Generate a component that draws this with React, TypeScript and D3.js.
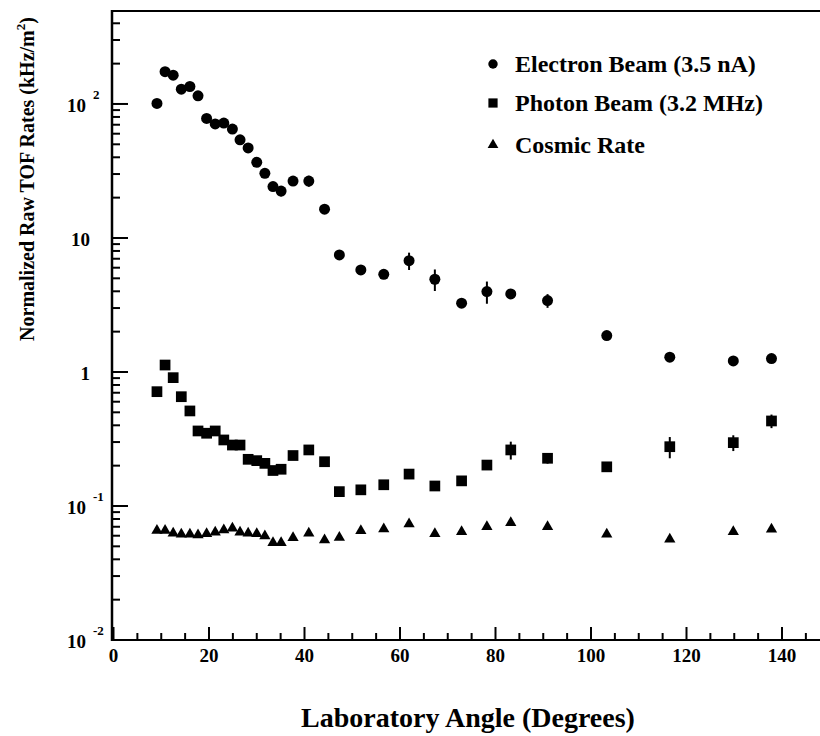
import React from "react";
import * as d3 from "d3";

// ---- data ----
const angles = [9.1, 10.8, 12.5, 14.2, 16.0, 17.7, 19.5, 21.3, 23.1, 24.9, 26.5, 28.2, 30.0, 31.7, 33.4, 35.1, 37.6, 40.9, 44.2, 47.3, 51.8, 56.6, 61.9, 67.3, 72.9, 78.2, 83.2, 90.9, 103.3, 116.5, 129.8, 137.8];
const electronRate = [101, 174, 164, 129, 135, 115, 78, 71, 72, 65, 54, 47, 36.7, 30.4, 24.2, 22.4, 26.6, 26.6, 16.4, 7.47, 5.77, 5.36, 6.77, 4.92, 3.26, 3.98, 3.82, 3.41, 1.87, 1.29, 1.21, 1.26];
const electronErr = [0, 0, 0, 0, 0, 0, 0, 0, 0, 0, 0, 0, 0, 0, 0, 2.0, 0, 2.5, 0, 0, 0, 0, 1.0, 0.9, 0, 0.75, 0.3, 0.4, 0, 0, 0, 0];
const photonRate = [0.713, 1.127, 0.907, 0.654, 0.512, 0.363, 0.349, 0.363, 0.311, 0.285, 0.285, 0.223, 0.218, 0.208, 0.184, 0.188, 0.238, 0.262, 0.214, 0.128, 0.132, 0.144, 0.173, 0.141, 0.154, 0.202, 0.262, 0.227, 0.196, 0.277, 0.297, 0.431];
const photonErr = [0, 0, 0, 0, 0, 0, 0, 0, 0, 0, 0, 0, 0, 0, 0, 0, 0, 0, 0, 0, 0, 0, 0, 0, 0, 0.012, 0.04, 0.02, 0.012, 0.05, 0.04, 0.05];
const cosmicRate = [0.0655, 0.0655, 0.0625, 0.0615, 0.0615, 0.0608, 0.062, 0.0637, 0.0662, 0.0682, 0.0637, 0.0625, 0.062, 0.0597, 0.0532, 0.0532, 0.058, 0.0625, 0.0557, 0.0582, 0.0653, 0.0673, 0.0734, 0.062, 0.0643, 0.0701, 0.0751, 0.0701, 0.0615, 0.0564, 0.0643, 0.067];

const xMajorTicks = [0, 20, 40, 60, 80, 100, 120, 140];
const yDecades = [-2, -1, 0, 1, 2];
const yTickLabels = [
  { exp: -2, base: "10", sup: "-2" },
  { exp: -1, base: "10", sup: "-1" },
  { exp: 0, base: "1", sup: "" },
  { exp: 1, base: "10", sup: "" },
  { exp: 2, base: "10", sup: "2" },
];
const legendItems = [
  { label: "Electron Beam (3.5 nA)", shape: "circle" },
  { label: "Photon Beam (3.2 MHz)", shape: "square" },
  { label: "Cosmic Rate", shape: "triangle" },
];
const xTitle = "Laboratory Angle (Degrees)";
const yTitle = "Normalized Raw TOF Rates (kHz/m";

const W = 820;
const H = 736;
const FONT = "'Liberation Serif', 'Times New Roman', serif";

export default function App() {
  const x = d3.scaleLinear().domain([0, 150]).range([113.5, 113.5 + 150 * 4.775]);
  const y = d3.scaleLog().domain([0.01, 494]).range([640, 11]);
  const x0 = 112;
  const yBot = 640;
  const yTop = 11;

  const circle = d3.symbol().type(d3.symbolCircle).size(95)();
  const square = d3.symbol().type(d3.symbolSquare).size(115)();
  const tri = d3.symbol().type(d3.symbolTriangle).size(55)();
  const circleL = d3.symbol().type(d3.symbolCircle).size(70)();
  const squareL = d3.symbol().type(d3.symbolSquare).size(85)();
  const triL = d3.symbol().type(d3.symbolTriangle).size(50)();
  const shapeOf: Record<string, string> = { circle: circleL, square: squareL, triangle: triL };

  const xMinor = d3.range(0, 149, 5).filter((v) => v % 20 !== 0);
  const yMinor: number[] = [];
  yDecades.forEach((e) => {
    for (let m = 2; m <= 9; m++) {
      const v = m * Math.pow(10, e);
      if (v <= 494) yMinor.push(v);
    }
  });

  const series = [
    { vals: electronRate, errs: electronErr, path: circle },
    { vals: photonRate, errs: photonErr, path: square },
    { vals: cosmicRate, errs: null as number[] | null, path: tri },
  ];

  return (
    <svg width={W} height={H} style={{ position: "absolute", left: 0, top: 0, background: "#fff" }} fontFamily={FONT}>
      <rect x={0} y={0} width={W} height={H} fill="#fff" />
      {/* frame */}
      <line x1={x0} x2={W} y1={yTop} y2={yTop} stroke="#000" strokeWidth={2} />
      <line x1={x0} x2={W} y1={yBot} y2={yBot} stroke="#000" strokeWidth={2} />
      <line x1={x0} x2={x0} y1={yTop - 1} y2={yBot + 1} stroke="#000" strokeWidth={2.5} />

      {/* x ticks */}
      {xMajorTicks.map((t) => (
        <g key={"xm" + t}>
          <line x1={x(t)} x2={x(t)} y1={yBot} y2={yBot - 13} stroke="#000" strokeWidth={2} />
          <text x={x(t)} y={662} textAnchor="middle" fontSize={19} fontWeight="bold">{t}</text>
        </g>
      ))}
      {xMinor.map((t) => (
        <line key={"xn" + t} x1={x(t)} x2={x(t)} y1={yBot} y2={yBot - 7} stroke="#000" strokeWidth={2} />
      ))}

      {/* y ticks */}
      {yDecades.map((e) => (
        <line key={"ym" + e} x1={x0} x2={x0 + 16} y1={y(Math.pow(10, e))} y2={y(Math.pow(10, e))} stroke="#000" strokeWidth={2} />
      ))}
      {yMinor.map((v, i) => (
        <line key={"yn" + i} x1={x0} x2={x0 + 8} y1={y(v)} y2={y(v)} stroke="#000" strokeWidth={2} />
      ))}
      {yTickLabels.map((l) => {
        const yy = y(Math.pow(10, l.exp));
        return l.sup ? (
          <g key={"yl" + l.exp}>
            <text x={86} y={yy + 8} textAnchor="end" fontSize={19} fontWeight="bold">{l.base}</text>
            <text x={93} y={yy - 5} textAnchor="start" fontSize={13} fontWeight="bold">{l.sup}</text>
          </g>
        ) : (
          <text key={"yl" + l.exp} x={90} y={yy + 8} textAnchor="end" fontSize={19} fontWeight="bold">{l.base}</text>
        );
      })}

      {/* data */}
      {series.map((s, si) => (
        <g key={"s" + si}>
          {s.errs &&
            s.vals.map((v, i) =>
              s.errs![i] > 0 ? (
                <line key={"e" + i} x1={x(angles[i])} x2={x(angles[i])} y1={y(v + s.errs![i])} y2={y(Math.max(v - s.errs![i], 1e-6))} stroke="#000" strokeWidth={2} />
              ) : null
            )}
          {s.vals.map((v, i) => (
            <path key={"p" + i} d={s.path} transform={`translate(${x(angles[i])},${y(v)})`} fill="#000" />
          ))}
        </g>
      ))}

      {/* legend */}
      {legendItems.map((it, i) => {
        const ly = [64, 103, 145][i];
        return (
          <g key={"lg" + i}>
            <path d={shapeOf[it.shape]} transform={`translate(493,${ly})`} fill="#000" />
            <text x={515} y={ly + 8} fontSize={24} fontWeight="bold">{it.label}</text>
          </g>
        );
      })}

      {/* axis titles */}
      <text x={468} y={727} textAnchor="middle" fontSize={28} fontWeight="bold">{xTitle}</text>
      <text transform="translate(34,179) rotate(-90)" textAnchor="middle" fontSize={20} fontWeight="bold">
        {yTitle}
        <tspan fontSize={13} dy={-9}>2</tspan>
        <tspan dy={9}>)</tspan>
      </text>
    </svg>
  );
}
